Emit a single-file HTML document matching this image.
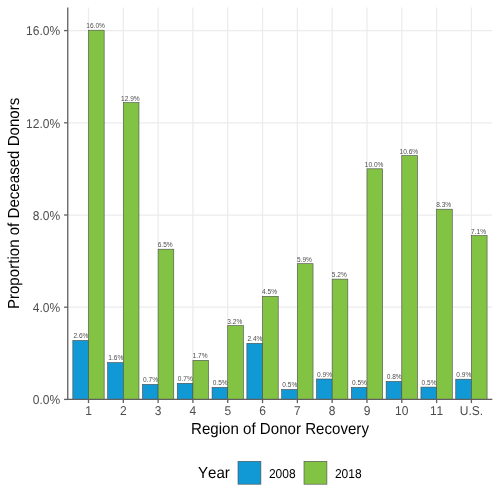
<!DOCTYPE html><html><head><meta charset="utf-8"><style>html,body{margin:0;padding:0;background:#fff;width:500px;height:500px;overflow:hidden}svg{display:block;will-change:transform}text{font-family:"Liberation Sans",sans-serif;font-kerning:none}.gp{text-rendering:geometricPrecision}.ol{text-rendering:optimizeLegibility}</style></head><body>
<svg width="500" height="500" viewBox="0 0 500 500">
<rect width="500" height="500" fill="#fff"/>
<g stroke="#ececec" stroke-width="1.25"><line x1="67.60" x2="492.30" y1="399.40" y2="399.40"/><line x1="67.60" x2="492.30" y1="307.20" y2="307.20"/><line x1="67.60" x2="492.30" y1="215.00" y2="215.00"/><line x1="67.60" x2="492.30" y1="122.80" y2="122.80"/><line x1="67.60" x2="492.30" y1="30.60" y2="30.60"/><line x1="88.49" x2="88.49" y1="7.40" y2="399.40"/><line x1="123.30" x2="123.30" y1="7.40" y2="399.40"/><line x1="158.11" x2="158.11" y1="7.40" y2="399.40"/><line x1="192.92" x2="192.92" y1="7.40" y2="399.40"/><line x1="227.73" x2="227.73" y1="7.40" y2="399.40"/><line x1="262.54" x2="262.54" y1="7.40" y2="399.40"/><line x1="297.36" x2="297.36" y1="7.40" y2="399.40"/><line x1="332.17" x2="332.17" y1="7.40" y2="399.40"/><line x1="366.98" x2="366.98" y1="7.40" y2="399.40"/><line x1="401.79" x2="401.79" y1="7.40" y2="399.40"/><line x1="436.60" x2="436.60" y1="7.40" y2="399.40"/><line x1="471.41" x2="471.41" y1="7.40" y2="399.40"/></g>
<g fill="#4d4d4d" font-size="6.6" text-anchor="middle" class="ol"><text transform="translate(80.90 338.35) scale(1 1.08)">2.6%</text><text transform="translate(95.57 28.10) scale(1 1.08)">16.0%</text><text transform="translate(115.72 360.45) scale(1 1.08)">1.6%</text><text transform="translate(130.38 100.50) scale(1 1.08)">12.9%</text><text transform="translate(150.53 382.30) scale(1 1.08)">0.7%</text><text transform="translate(165.19 247.10) scale(1 1.08)">6.5%</text><text transform="translate(185.34 381.20) scale(1 1.08)">0.7%</text><text transform="translate(200.00 358.20) scale(1 1.08)">1.7%</text><text transform="translate(220.15 385.30) scale(1 1.08)">0.5%</text><text transform="translate(234.82 323.50) scale(1 1.08)">3.2%</text><text transform="translate(254.96 341.20) scale(1 1.08)">2.4%</text><text transform="translate(269.63 294.20) scale(1 1.08)">4.5%</text><text transform="translate(289.77 387.35) scale(1 1.08)">0.5%</text><text transform="translate(304.44 261.60) scale(1 1.08)">5.9%</text><text transform="translate(324.58 376.90) scale(1 1.08)">0.9%</text><text transform="translate(339.25 277.00) scale(1 1.08)">5.2%</text><text transform="translate(359.40 385.30) scale(1 1.08)">0.5%</text><text transform="translate(374.06 166.70) scale(1 1.08)">10.0%</text><text transform="translate(394.21 379.30) scale(1 1.08)">0.8%</text><text transform="translate(408.87 153.50) scale(1 1.08)">10.6%</text><text transform="translate(429.02 385.00) scale(1 1.08)">0.5%</text><text transform="translate(443.68 207.10) scale(1 1.08)">8.3%</text><text transform="translate(463.83 377.10) scale(1 1.08)">0.9%</text><text transform="translate(478.50 233.50) scale(1 1.08)">7.1%</text></g>
<g stroke="#4a4a4a" stroke-width="0.6"><rect x="72.82" y="340.45" width="15.67" height="58.95" fill="#1199d6"/><rect x="88.49" y="30.20" width="15.67" height="369.20" fill="#83c343"/><rect x="107.63" y="362.55" width="15.67" height="36.85" fill="#1199d6"/><rect x="123.30" y="102.60" width="15.67" height="296.80" fill="#83c343"/><rect x="142.44" y="384.40" width="15.67" height="15.00" fill="#1199d6"/><rect x="158.11" y="249.20" width="15.67" height="150.20" fill="#83c343"/><rect x="177.26" y="383.30" width="15.67" height="16.10" fill="#1199d6"/><rect x="192.92" y="360.30" width="15.67" height="39.10" fill="#83c343"/><rect x="212.07" y="387.40" width="15.67" height="12.00" fill="#1199d6"/><rect x="227.73" y="325.60" width="15.67" height="73.80" fill="#83c343"/><rect x="246.88" y="343.30" width="15.67" height="56.10" fill="#1199d6"/><rect x="262.54" y="296.30" width="15.67" height="103.10" fill="#83c343"/><rect x="281.69" y="389.45" width="15.67" height="9.95" fill="#1199d6"/><rect x="297.36" y="263.70" width="15.67" height="135.70" fill="#83c343"/><rect x="316.50" y="379.00" width="15.67" height="20.40" fill="#1199d6"/><rect x="332.17" y="279.10" width="15.67" height="120.30" fill="#83c343"/><rect x="351.31" y="387.40" width="15.67" height="12.00" fill="#1199d6"/><rect x="366.98" y="168.80" width="15.67" height="230.60" fill="#83c343"/><rect x="386.13" y="381.40" width="15.67" height="18.00" fill="#1199d6"/><rect x="401.79" y="155.60" width="15.67" height="243.80" fill="#83c343"/><rect x="420.94" y="387.10" width="15.67" height="12.30" fill="#1199d6"/><rect x="436.60" y="209.20" width="15.67" height="190.20" fill="#83c343"/><rect x="455.75" y="379.20" width="15.67" height="20.20" fill="#1199d6"/><rect x="471.41" y="235.60" width="15.67" height="163.80" fill="#83c343"/></g>
<g stroke="#606060" stroke-width="1.3" stroke-linecap="butt">
<line x1="67.75" x2="67.75" y1="7.40" y2="400.05"/>
<line x1="67.10" x2="492.30" y1="399.40" y2="399.40"/>
<line x1="64.05" x2="67.75" y1="399.40" y2="399.40"/>
<line x1="64.05" x2="67.75" y1="307.20" y2="307.20"/>
<line x1="64.05" x2="67.75" y1="215.00" y2="215.00"/>
<line x1="64.05" x2="67.75" y1="122.80" y2="122.80"/>
<line x1="64.05" x2="67.75" y1="30.60" y2="30.60"/>
<line x1="88.49" x2="88.49" y1="399.40" y2="403.10"/>
<line x1="123.30" x2="123.30" y1="399.40" y2="403.10"/>
<line x1="158.11" x2="158.11" y1="399.40" y2="403.10"/>
<line x1="192.92" x2="192.92" y1="399.40" y2="403.10"/>
<line x1="227.73" x2="227.73" y1="399.40" y2="403.10"/>
<line x1="262.54" x2="262.54" y1="399.40" y2="403.10"/>
<line x1="297.36" x2="297.36" y1="399.40" y2="403.10"/>
<line x1="332.17" x2="332.17" y1="399.40" y2="403.10"/>
<line x1="366.98" x2="366.98" y1="399.40" y2="403.10"/>
<line x1="401.79" x2="401.79" y1="399.40" y2="403.10"/>
<line x1="436.60" x2="436.60" y1="399.40" y2="403.10"/>
<line x1="471.41" x2="471.41" y1="399.40" y2="403.10"/>
</g>
<g class="gp" fill="#4d4d4d" font-size="12" text-anchor="end"><text transform="translate(60.10 404.10) scale(1 1.07)">0.0%</text><text transform="translate(60.10 311.90) scale(1 1.07)">4.0%</text><text transform="translate(60.10 219.70) scale(1 1.07)">8.0%</text><text transform="translate(60.10 127.50) scale(1 1.07)">12.0%</text><text transform="translate(60.10 35.30) scale(1 1.07)">16.0%</text></g>
<g class="gp" fill="#4d4d4d" font-size="12" text-anchor="middle"><text transform="translate(88.49 415.20) scale(1 1.07)">1</text><text transform="translate(123.30 415.20) scale(1 1.07)">2</text><text transform="translate(158.11 415.20) scale(1 1.07)">3</text><text transform="translate(192.92 415.20) scale(1 1.07)">4</text><text transform="translate(227.73 415.20) scale(1 1.07)">5</text><text transform="translate(262.54 415.20) scale(1 1.07)">6</text><text transform="translate(297.36 415.20) scale(1 1.07)">7</text><text transform="translate(332.17 415.20) scale(1 1.07)">8</text><text transform="translate(366.98 415.20) scale(1 1.07)">9</text><text transform="translate(401.79 415.20) scale(1 1.07)">10</text><text transform="translate(436.60 415.20) scale(1 1.07)">11</text><text transform="translate(471.41 415.20) scale(1 1.07)">U.S.</text></g>
<text class="gp" transform="translate(280 434.4) scale(1 1.06)" x="0" y="0" font-size="15.1" text-anchor="middle" fill="#000">Region of Donor Recovery</text>
<text class="gp" transform="translate(19.2 203.4) rotate(-90) scale(1 1.06)" x="0" y="0" font-size="15.1" text-anchor="middle" fill="#000">Proportion of Deceased Donors</text>
<text class="gp" transform="translate(198 478) scale(1 1.06)" x="0" y="0" font-size="15.1" fill="#000">Year</text>
<rect x="238" y="461.3" width="22.9" height="22.9" fill="#1199d6" stroke="#4a4a4a" stroke-width="0.6"/>
<text class="gp" transform="translate(268.9 477.8) scale(1 1.07)" font-size="12" fill="#000">2008</text>
<rect x="304" y="461.3" width="22.9" height="22.9" fill="#83c343" stroke="#4a4a4a" stroke-width="0.6"/>
<text class="gp" transform="translate(334.9 477.8) scale(1 1.07)" font-size="12" fill="#000">2018</text>
</svg></body></html>
